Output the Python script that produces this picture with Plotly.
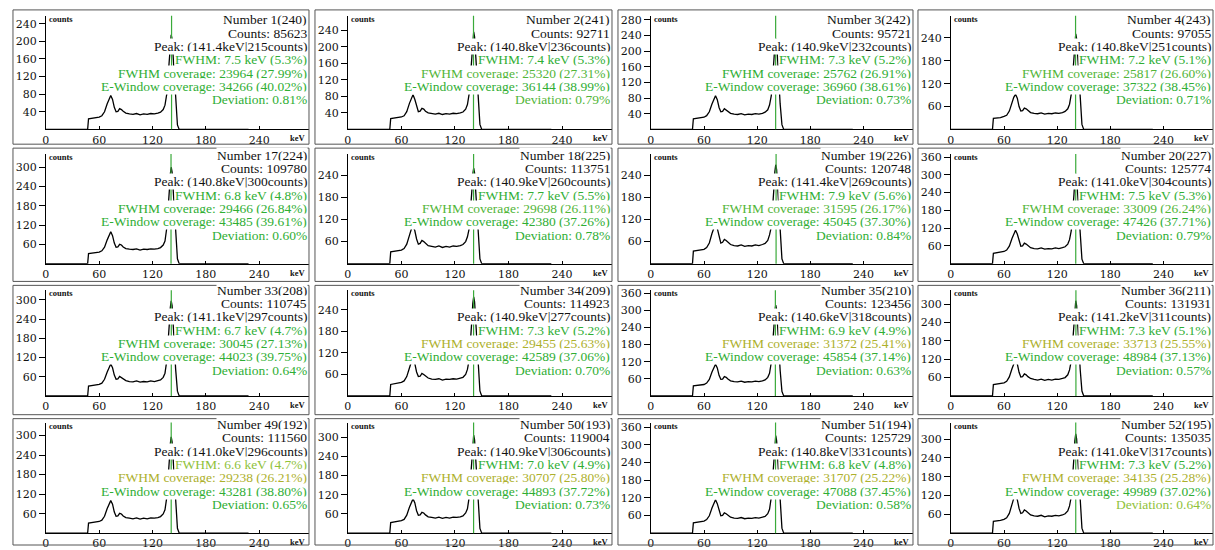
import plotly.graph_objects as go

# ---------------- data ----------------
energy_kev = [0, 47, 48, 52, 56, 60, 63, 66, 69, 71, 73, 75, 77, 79, 81, 83, 85, 87, 90, 94,
              98, 102, 106, 110, 114, 118, 122, 126, 129, 132, 134, 136, 138, 139, 140, 141,
              142, 143, 144, 146, 148, 150, 228]

counts_n01 = [0, 0, 24, 25, 26, 28, 31, 40, 58, 70, 77, 68, 50, 40, 41, 47, 45, 41, 37, 35, 34, 36, 33, 35, 34, 36, 35, 37, 39, 45, 55,
              80, 130, 165, 200, 215, 205, 175, 135, 60, 10, 0, 0]
counts_n02 = [0, 0, 26, 27, 28, 30, 33, 43, 63, 76, 84, 73, 54, 43, 44, 51, 49, 44, 40, 38, 37, 39, 36, 38, 37, 39, 38, 40, 42, 49, 60,
              87, 142, 182, 219, 236, 224, 191, 149, 66, 12, 0, 0]
counts_n03 = [0, 0, 27, 28, 29, 31, 35, 45, 65, 78, 86, 76, 56, 45, 46, 53, 50, 46, 41, 39, 38, 40, 37, 39, 38, 40, 39, 41, 44, 50, 62,
              86, 139, 179, 216, 232, 220, 188, 146, 65, 12, 0, 0]
counts_n04 = [0, 0, 29, 30, 31, 34, 37, 48, 70, 84, 92, 82, 60, 48, 49, 56, 54, 49, 44, 42, 41, 43, 40, 42, 41, 43, 42, 44, 47, 54, 66,
              93, 151, 193, 233, 251, 238, 203, 158, 70, 13, 0, 0]
counts_n17 = [0, 0, 31, 32, 33, 36, 40, 51, 74, 90, 99, 87, 64, 51, 52, 60, 58, 52, 47, 45, 44, 46, 42, 45, 44, 46, 45, 47, 50, 58, 70,
              111, 180, 231, 279, 300, 285, 243, 189, 84, 15, 0, 0]
counts_n18 = [0, 0, 32, 33, 35, 37, 41, 53, 77, 93, 102, 90, 67, 53, 55, 63, 60, 55, 49, 47, 45, 48, 44, 47, 45, 48, 47, 49, 52, 60, 73,
              96, 156, 200, 242, 260, 247, 211, 164, 73, 13, 0, 0]
counts_n19 = [0, 0, 34, 35, 37, 39, 44, 56, 82, 99, 109, 96, 71, 56, 58, 66, 63, 58, 52, 49, 48, 51, 47, 49, 48, 51, 49, 52, 55, 63, 78,
              100, 161, 207, 250, 269, 256, 218, 169, 75, 13, 0, 0]
counts_n20 = [0, 0, 35, 37, 38, 41, 46, 59, 85, 103, 113, 100, 74, 59, 60, 69, 66, 60, 54, 51, 50, 53, 49, 51, 50, 53, 51, 54, 57, 66, 81,
              112, 182, 234, 283, 304, 289, 246, 192, 85, 15, 0, 0]
counts_n33 = [0, 0, 31, 32, 34, 36, 40, 52, 75, 90, 100, 88, 65, 52, 53, 61, 58, 53, 48, 45, 44, 47, 43, 45, 44, 47, 45, 48, 50, 58, 71,
              110, 178, 229, 276, 297, 282, 241, 187, 83, 15, 0, 0]
counts_n34 = [0, 0, 32, 34, 35, 38, 42, 54, 78, 94, 103, 91, 67, 54, 55, 63, 60, 55, 50, 47, 46, 48, 44, 47, 46, 48, 47, 50, 52, 60, 74,
              102, 166, 213, 258, 277, 263, 224, 175, 78, 14, 0, 0]
counts_n35 = [0, 0, 35, 36, 37, 40, 45, 58, 84, 101, 111, 98, 72, 58, 59, 68, 65, 59, 53, 50, 49, 52, 48, 50, 49, 52, 50, 53, 56, 65, 79,
              118, 191, 245, 296, 318, 302, 258, 200, 89, 16, 0, 0]
counts_n36 = [0, 0, 37, 39, 40, 43, 48, 62, 89, 108, 119, 105, 77, 62, 63, 72, 69, 63, 57, 54, 52, 55, 51, 54, 52, 55, 54, 57, 60, 69, 85,
              115, 187, 239, 289, 311, 295, 252, 196, 87, 16, 0, 0]
counts_n49 = [0, 0, 31, 33, 34, 36, 40, 52, 76, 91, 100, 89, 65, 52, 53, 61, 59, 53, 48, 46, 44, 47, 43, 46, 44, 47, 46, 48, 51, 59, 72,
              110, 178, 228, 275, 296, 281, 240, 186, 83, 15, 0, 0]
counts_n50 = [0, 0, 33, 35, 36, 39, 43, 56, 81, 97, 107, 95, 70, 56, 57, 65, 63, 57, 51, 49, 47, 50, 46, 49, 47, 50, 49, 51, 54, 63, 76,
              113, 184, 236, 285, 306, 291, 248, 193, 86, 15, 0, 0]
counts_n51 = [0, 0, 35, 37, 38, 41, 46, 59, 85, 103, 113, 100, 74, 59, 60, 69, 66, 60, 54, 51, 50, 53, 49, 51, 50, 53, 51, 54, 57, 66, 81,
              122, 199, 255, 308, 331, 314, 268, 209, 93, 17, 0, 0]
counts_n52 = [0, 0, 38, 39, 41, 44, 49, 63, 92, 111, 122, 107, 79, 63, 65, 74, 71, 65, 58, 55, 54, 57, 52, 55, 54, 57, 55, 58, 62, 71, 87,
              117, 190, 244, 295, 317, 301, 257, 200, 89, 16, 0, 0]

panel_no = [1, 2, 3, 4, 17, 18, 19, 20, 33, 34, 35, 36, 49, 50, 51, 52]
panel_id = [240, 241, 242, 243, 224, 225, 226, 227, 208, 209, 210, 211, 192, 193, 194, 195]
total_counts = [85623, 92711, 95721, 97055, 109780, 113751, 120748, 125774,
                110745, 114923, 123456, 131931, 111560, 119004, 125729, 135035]
peak_kev = [141.4, 140.8, 140.9, 140.8, 140.8, 140.9, 141.4, 141.0,
            141.1, 140.9, 140.6, 141.2, 141.0, 140.9, 140.8, 141.0]
peak_counts = [215, 236, 232, 251, 300, 260, 269, 304, 297, 277, 318, 311, 296, 306, 331, 317]
fwhm_kev = [7.5, 7.4, 7.3, 7.2, 6.8, 7.7, 7.9, 7.5, 6.7, 7.3, 6.9, 7.3, 6.6, 7.0, 6.8, 7.3]
fwhm_pct = [5.3, 5.3, 5.2, 5.1, 4.8, 5.5, 5.6, 5.3, 4.7, 5.2, 4.9, 5.1, 4.7, 4.9, 4.8, 5.2]
fwhm_cov = [23964, 25320, 25762, 25817, 29466, 29698, 31595, 33009,
            30045, 29455, 31372, 33713, 29238, 30707, 31707, 34135]
fwhm_cov_pct = [27.99, 27.31, 26.91, 26.60, 26.84, 26.11, 26.17, 26.24,
                27.13, 25.63, 25.41, 25.55, 26.21, 25.80, 25.22, 25.28]
ewin_cov = [34266, 36144, 36960, 37322, 43485, 42380, 45045, 47426,
            44023, 42589, 45854, 48984, 43281, 44893, 47088, 49989]
ewin_pct = [40.02, 38.99, 38.61, 38.45, 39.61, 37.26, 37.30, 37.71,
            39.75, 37.06, 37.14, 37.13, 38.80, 37.72, 37.45, 37.02]
deviation_pct = [0.81, 0.79, 0.73, 0.71, 0.60, 0.78, 0.84, 0.79,
                 0.64, 0.70, 0.63, 0.57, 0.65, 0.73, 0.58, 0.64]
y_max = [258, 275, 290, 298, 341, 298, 298, 370, 330, 295, 370, 345, 340, 345, 375, 353]
y_step = [40, 40, 40, 60, 60, 60, 60, 60, 60, 60, 60, 60, 60, 60, 60, 60]
x_ticks = [0, 60, 120, 180, 240]

spectra = [counts_n01, counts_n02, counts_n03, counts_n04, counts_n17, counts_n18, counts_n19, counts_n20,
           counts_n33, counts_n34, counts_n35, counts_n36, counts_n49, counts_n50, counts_n51, counts_n52]

# ---------------- styles ----------------
G = "#2fae34"
G2 = "#52b538"
YG = "#8fc23a"
Y = "#adb02c"
DARK = "#111111"
# text colours per panel: FWHM, FWHM coverage, E-Window coverage, Deviation
text_colors = [
    (G, G, G, G), (G, G2, G, G2), (G, G, G, G), (G, G2, G, G),
    (G, G, G, G), (G, G2, G, G), (G, G2, G, G), (G, G2, G, G),
    (G, G, G, G), (G, Y, G, G), (G, Y, G, G), (G, Y, G, G),
    (YG, Y, G, G), (G, Y, G, G), (G, Y, G, G), (G, Y, G, YG),
]

W, H = 1215, 550
col_left = [9, 312, 616, 917]
col_right = [306, 610, 912, 1213]
row_top = [7, 147, 286, 421]
row_bot = [143, 282, 417, 549]
plot_top = [13, 153, 291, 425]
plot_bot = [128, 264, 398, 537]
text_top = [17, 154, 291, 427]
line_gap = 13.5
TEXT_FONT = "Liberation Serif"
TICK_FONT = "DejaVu Serif"

fig = go.Figure()
layout = {}
shapes = []
annotations = []

for i in range(16):
    r, c = divmod(i, 4)
    n = i + 1
    xa = "x" if n == 1 else f"x{n}"
    ya = "y" if n == 1 else f"y{n}"
    xkey = "xaxis" if n == 1 else f"xaxis{n}"
    ykey = "yaxis" if n == 1 else f"yaxis{n}"

    fig.add_trace(go.Scatter(
        x=energy_kev, y=spectra[i], mode="lines",
        line=dict(color="black", width=1.3),
        xaxis=xa, yaxis=ya, showlegend=False, hoverinfo="skip"))

    left = col_left[c] + 33
    right = col_right[c]
    layout[xkey] = dict(
        domain=[left / W, right / W], range=[0, 296], anchor=ya,
        showline=True, linecolor="black", linewidth=1,
        ticks="inside", ticklen=3, tickcolor="black",
        tickvals=x_ticks, ticktext=[str(v) for v in x_ticks],
        tickfont=dict(family=TICK_FONT, size=11, color=DARK),
        showgrid=False, zeroline=False, fixedrange=True)
    yt = list(range(y_step[i], int(y_max[i]) + 1, y_step[i]))
    layout[ykey] = dict(
        domain=[1 - plot_bot[r] / H, 1 - plot_top[r] / H], range=[0, y_max[i]], anchor=xa,
        showline=True, linecolor="black", linewidth=1,
        ticks="outside", ticklen=6, tickcolor="black",
        tickvals=yt, ticktext=[str(v) for v in yt],
        tickfont=dict(family=TICK_FONT, size=11, color=DARK),
        showgrid=False, zeroline=False, fixedrange=True)

    # reference (peak) line
    shapes.append(dict(type="line", xref=xa, yref=f"{ya} domain",
                       x0=peak_kev[i], x1=peak_kev[i], y0=0, y1=1,
                       line=dict(color="#3aaa3a", width=1.2)))
    # panel frame
    shapes.append(dict(type="rect", xref="paper", yref="paper",
                       x0=col_left[c] / W, x1=col_right[c] / W,
                       y0=1 - row_bot[r] / H, y1=1 - row_top[r] / H,
                       line=dict(color="#555555", width=1)))

    cf, cc, ce, cd = text_colors[i]
    lines = [
        (f"Number {panel_no[i]}({panel_id[i]})", DARK),
        (f"Counts: {total_counts[i]}", DARK),
        (f"Peak: ({peak_kev[i]:.1f}keV|{peak_counts[i]}counts)", DARK),
        (f"FWHM: {fwhm_kev[i]:.1f} keV ({fwhm_pct[i]:.1f}%)", cf),
        (f"FWHM coverage: {fwhm_cov[i]} ({fwhm_cov_pct[i]:.2f}%)", cc),
        (f"E-Window coverage: {ewin_cov[i]} ({ewin_pct[i]:.2f}%)", ce),
        (f"Deviation: {deviation_pct[i]:.2f}%", cd),
    ]
    for k, (txt, col) in enumerate(lines):
        annotations.append(dict(
            text=txt, xref="paper", yref="paper",
            x=(col_right[c] - 1) / W, y=1 - (text_top[r] + line_gap * k) / H,
            xanchor="right", yanchor="middle", showarrow=False,
            bgcolor="white", borderpad=0,
            font=dict(family=TEXT_FONT, size=13.5, color=col)))
    annotations.append(dict(
        text="<b>counts</b>", xref="paper", yref="paper",
        x=(left + 1) / W, y=1 - (plot_top[r] + 3) / H,
        xanchor="left", yanchor="middle", showarrow=False,
        font=dict(family=TEXT_FONT, size=8.5, color=DARK)))
    annotations.append(dict(
        text="<b>keV</b>", xref="paper", yref="paper",
        x=(col_right[c] - 1) / W, y=1 - (plot_bot[r] + 9) / H,
        xanchor="right", yanchor="middle", showarrow=False,
        font=dict(family=TEXT_FONT, size=8.5, color=DARK)))

fig.update_layout(
    width=W, height=H, margin=dict(l=0, r=0, t=0, b=0),
    paper_bgcolor="white", plot_bgcolor="white",
    shapes=shapes, annotations=annotations, showlegend=False, **layout)

fig.write_html(
    "out.html",
    config={"displayModeBar": False, "staticPlot": True},
    post_script="document.documentElement.style.margin='0';document.documentElement.style.padding='0';"
                "document.body.style.margin='0';document.body.style.padding='0';"
                "document.body.style.overflow='hidden';")
